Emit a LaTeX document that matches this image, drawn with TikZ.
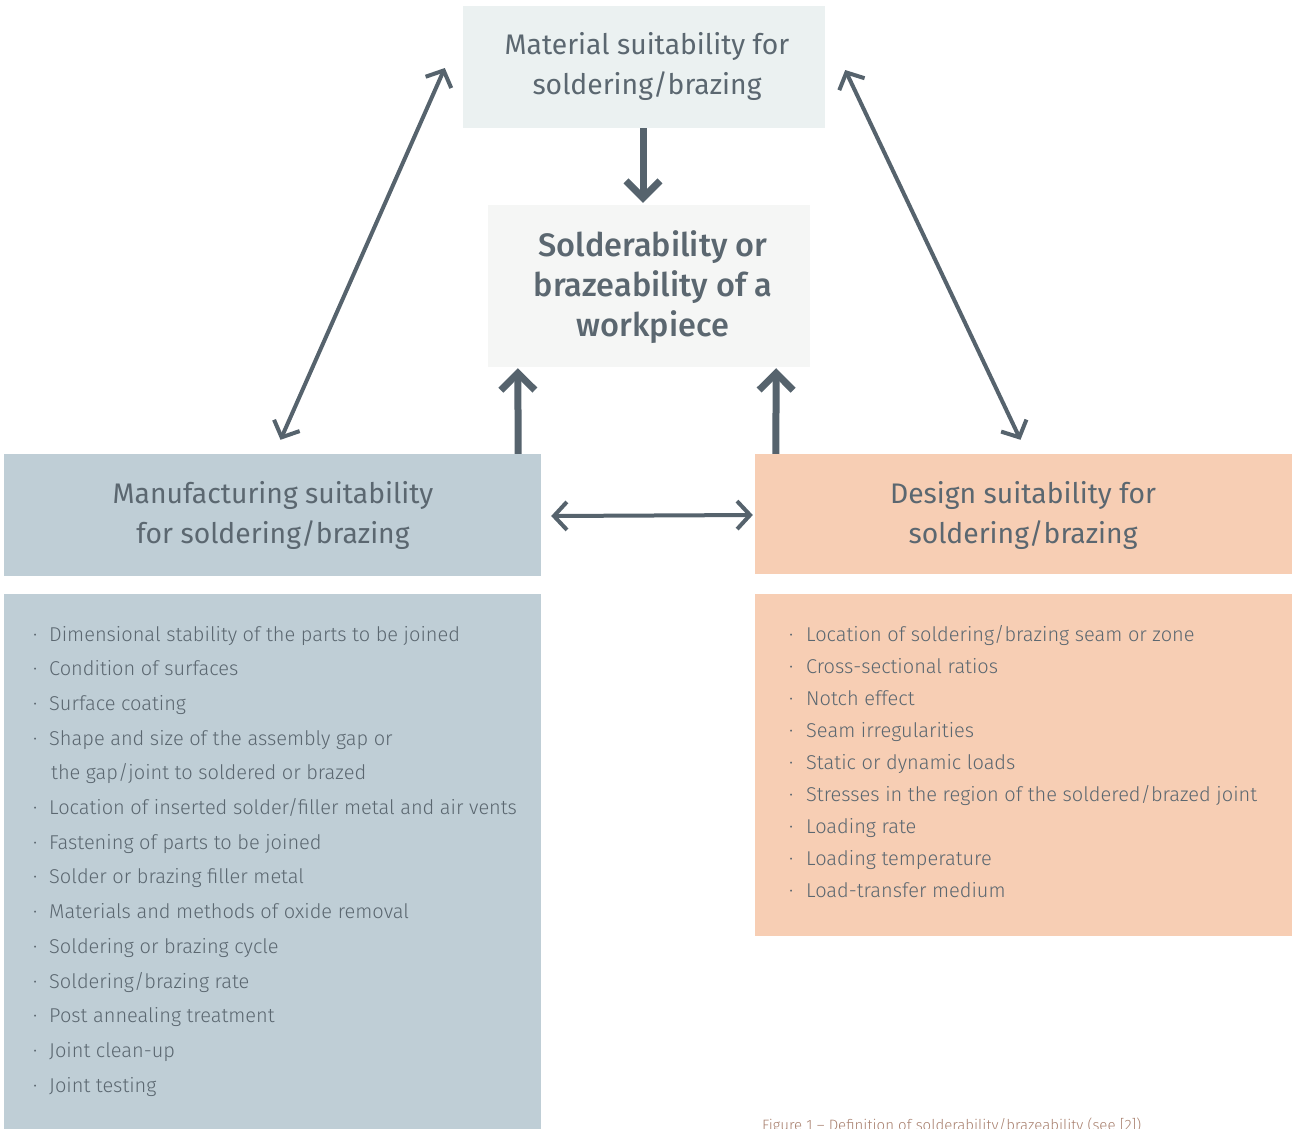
\documentclass[tikz,border=0pt]{standalone}
\usepackage{fontspec}
\setmainfont{Fira Sans Light}
\newfontfamily\headf{Fira Sans}
\newfontfamily\boldf{Fira Sans Medium}
\usetikzlibrary{arrows.meta}
\definecolor{arrowc}{HTML}{56636D}
\definecolor{textc}{HTML}{5B6770}
\definecolor{matfill}{HTML}{EBF1F1}
\definecolor{cenfill}{HTML}{F5F6F5}
\definecolor{manfill}{HTML}{BFCED6}
\definecolor{desfill}{HTML}{F7CEB4}
\definecolor{capc}{HTML}{A8806E}
\newcommand{\bl}{\makebox[16pt][l]{·}}
\newcommand{\br}{\makebox[17pt][l]{·}}
\tikzset{
  box/.style={draw=none, inner sep=0pt, rectangle},
  headtext/.style={text=textc, align=center, font=\headf\fontsize{28.3}{40}\selectfont},
  centext/.style={text=textc, align=center, font=\boldf\fontsize{32.5}{40}\selectfont},
  item/.style={text=textc, anchor=base west, inner sep=0pt, font=\fontsize{20}{24}\selectfont},
  fatarrow/.style={draw=arrowc, line width=7pt, -{Straight Barb[length=17pt, width=34pt]}},
  thinarrow/.style={draw=arrowc, line width=4pt, {Straight Barb[length=13pt, width=28pt]}-{Straight Barb[length=13pt, width=28pt]}},
}
\begin{document}
\begin{tikzpicture}[x=1pt, y=-1pt]
\useasboundingbox (0,0) rectangle (1293,1128);
% boxes
\node[box, fill=matfill, minimum width=362pt, minimum height=122pt] (mat) at (644,67) {};
\node[box, fill=cenfill, minimum width=322pt, minimum height=162pt] (cen) at (649,286) {};
\node[box, fill=manfill, minimum width=537pt, minimum height=122pt] (man) at (272.5,515) {};
\node[box, fill=desfill, minimum width=537pt, minimum height=120pt] (des) at (1023.5,514) {};
\node[box, fill=manfill, minimum width=537pt, minimum height=540pt] (manlist) at (272.5,864) {};
\node[box, fill=desfill, minimum width=537pt, minimum height=342pt] (deslist) at (1023.5,765) {};
% texts
\node[headtext] (matt) at (647,66) {Material suitability for\\soldering/brazing};
\node[centext] (cent) at (653,287) {Solderability or\\brazeability of a\\workpiece};
\node[headtext] (mant) at (273,515) {Manufacturing suitability\\for soldering/brazing};
\node[headtext] (dest) at (1023,515) {Design suitability for\\soldering/brazing};
% arrows
\draw[fatarrow] (mat.south -| 643,0) -- ([yshift=2pt]cen.north -| 643,0);
\draw[fatarrow] ([xshift=-23pt]man.north east) -- ([xshift=30pt,yshift=-1pt]cen.south west);
\draw[fatarrow] ([xshift=21pt]des.north west) -- ([xshift=-34pt,yshift=-1pt]cen.south east);
\draw[thinarrow] ([xshift=10pt,yshift=-1pt]man.east) -- ([xshift=-2pt,yshift=-1pt]des.west);
\draw[thinarrow] ([xshift=-18pt,yshift=-1pt]mat.west) -- ([xshift=8pt,yshift=14pt]man.north);
\draw[thinarrow] ([xshift=20pt,yshift=-3pt]mat.east) -- ([xshift=-3pt,yshift=14pt]des.north);
% left list
\foreach \t [count=\i from 0] in {
  {\bl Dimensional stability of the parts to be joined},
  {\bl Condition of surfaces},
  {\bl Surface coating},
  {\bl Shape and size of the assembly gap or},
  {\hspace{18pt}the gap/joint to soldered or brazed},
  {\bl Location of inserted solder/filler metal and air vents},
  {\bl Fastening of parts to be joined},
  {\bl Solder or brazing filler metal},
  {\bl Materials and methods of oxide removal},
  {\bl Soldering or brazing cycle},
  {\bl Soldering/brazing rate},
  {\bl Post annealing treatment},
  {\bl Joint clean-up},
  {\bl Joint testing}}
  \node[item] (ml\i) at (33, 641+34.7*\i) {\t};
% right list
\foreach \t [count=\i from 0] in {
  {\br Location of soldering/brazing seam or zone},
  {\br Cross-sectional ratios},
  {\br Notch effect},
  {\br Seam irregularities},
  {\br Static or dynamic loads},
  {\br Stresses in the region of the soldered/brazed joint},
  {\br Loading rate},
  {\br Loading temperature},
  {\br Load-transfer medium}}
  \node[item] (dl\i) at (789, 641+32*\i) {\t};
% caption
\node[anchor=base west, inner sep=0pt, text=capc, font=\fontsize{15}{18}\selectfont] (cap) at (762,1130) {Figure 1 -- Definition of solderability/brazeability (see [2])};
\end{tikzpicture}
\end{document}
